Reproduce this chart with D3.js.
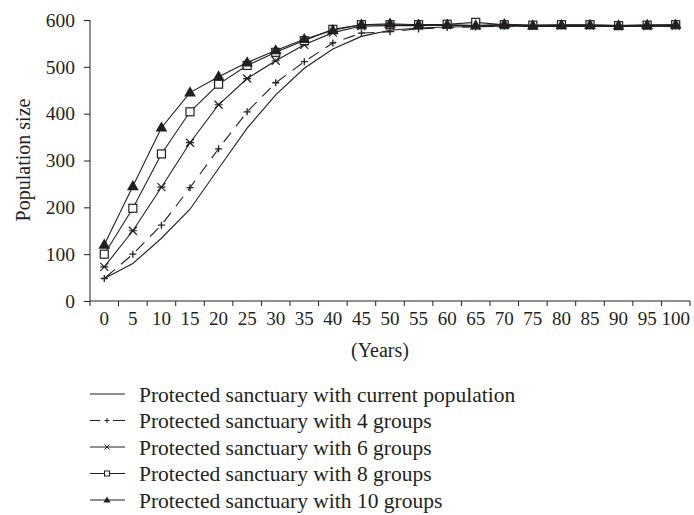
<!DOCTYPE html>
<html>
<head>
<meta charset="utf-8">
<script src="https://cdn.jsdelivr.net/npm/d3@7"></script>
<style>
  body { margin: 0; background: #fff; }
  text { font-family: "Liberation Serif", "Times New Roman", serif; fill: #231f20; }
</style>
</head>
<body>
<script>
var years = ['0','5','10','15','20','25','30','35','40','45','50','55','60','65','70','75','80','85','90','95','100'];
var yTicks = [0, 100, 200, 300, 400, 500, 600];

var current  = [48, 80, 134, 196, 283, 369, 440, 497, 538, 565, 578, 583, 585, 586, 587, 586, 586, 587, 586, 586, 587];
var groups4  = [48, 100, 162, 242, 325, 404, 466, 511, 551, 572, 575, 581, 584, 585, 587, 586, 587, 587, 586, 587, 587];
var groups6  = [73, 150, 243, 338, 419, 475, 513, 547, 573, 587, 588, 588, 589, 588, 589, 588, 588, 588, 587, 587, 588];
var groups8  = [100, 198, 314, 404, 463, 503, 531, 556, 580, 590, 590, 590, 591, 595, 590, 589, 590, 590, 588, 589, 590];
var groups10 = [120, 245, 370, 445, 479, 509, 535, 559, 578, 590, 592, 590, 590, 588, 591, 588, 589, 589, 588, 589, 590];

var seriesNames = [
  'Protected sanctuary with current population',
  'Protected sanctuary with 4 groups',
  'Protected sanctuary with 6 groups',
  'Protected sanctuary with 8 groups',
  'Protected sanctuary with 10 groups'
];
var seriesValues = [current, groups4, groups6, groups8, groups10];
var seriesMarks  = ['none', 'plus', 'star', 'square', 'triangle'];

var svg = d3.select('body').append('svg')
            .attr('width', 694)
            .attr('height', 515);

var x = d3.scaleBand().domain(years).range([90, 690]);
var y = d3.scaleLinear().domain([0, 600]).range([301, 20]);

var ink = '#231f20';

// y axis
var yAxis = svg.append('g')
  .attr('transform', 'translate(90,0)')
  .call(d3.axisLeft(y).tickValues(yTicks).tickSize(6).tickPadding(9));
yAxis.select('.domain').attr('stroke', ink).attr('d', 'M0,' + y(600) + 'V' + y(0));
yAxis.selectAll('line').attr('stroke', ink);
yAxis.selectAll('text').attr('font-size', 19.5).attr('font-family', null);

// x axis: labels in band centres, ticks on band edges
var xAxis = svg.append('g')
  .attr('transform', 'translate(0,' + y(0) + ')')
  .call(d3.axisBottom(x).tickSize(0).tickPadding(11));
xAxis.select('.domain').attr('stroke', ink).attr('d', 'M90,0H690');
xAxis.selectAll('text').attr('font-size', 19).attr('font-family', null);

var edges = years.map(function(d){ return x(d); }).concat([x.range()[1]]);
xAxis.selectAll('.edge').data(edges).enter().append('line')
  .attr('class', 'edge')
  .attr('x1', function(d){ return d; }).attr('x2', function(d){ return d; })
  .attr('y1', 0).attr('y2', 5)
  .attr('stroke', ink);

svg.append('text')
  .attr('x', 380).attr('y', 357)
  .attr('text-anchor', 'middle')
  .attr('font-size', 20)
  .text('(Years)');

svg.append('text')
  .attr('transform', 'translate(30,160) rotate(-90)')
  .attr('text-anchor', 'middle')
  .attr('font-size', 20)
  .text('Population size');

///////////////////////////////////////////////////////////////////////////////
// lines and markers

var line = d3.line()
  .x(function(d, i){ return x(years[i]) + x.bandwidth() / 2; })
  .y(function(d){ return y(d); });

function drawMark(g, kind, cx, cy, s){
  if(kind === 'plus'){
    g.append('path').attr('d', 'M' + (cx - 3.5) + ',' + cy + 'h7M' + cx + ',' + (cy - 3.5) + 'v7')
      .attr('stroke', ink).attr('stroke-width', 1.3);
  } else if(kind === 'star'){
    g.append('path').attr('d', 'M' + (cx - 4) + ',' + (cy - 4) + 'l8,8M' + (cx - 4) + ',' + (cy + 4) + 'l8,-8M' + (cx - 4) + ',' + cy + 'h8')
      .attr('stroke', ink).attr('stroke-width', 1.2);
  } else if(kind === 'square'){
    g.append('rect').attr('x', cx - 4).attr('y', cy - 4).attr('width', 8).attr('height', 8)
      .attr('fill', '#fff').attr('stroke', ink).attr('stroke-width', 1.2);
  } else if(kind === 'triangle'){
    g.append('path').attr('d', d3.symbol(d3.symbolTriangle, s || 60)())
      .attr('transform', 'translate(' + cx + ',' + (cy + 0.5) + ')')
      .attr('fill', ink);
  }
}

seriesValues.forEach(function(vals, k){
  var g = svg.append('g');
  g.append('path')
    .attr('d', line(vals))
    .attr('fill', 'none')
    .attr('stroke', ink)
    .attr('stroke-width', 1.1)
    .attr('stroke-dasharray', seriesMarks[k] === 'plus' ? '12,8' : null)
    .attr('stroke-dashoffset', seriesMarks[k] === 'plus' ? 18 : null);
  vals.forEach(function(v, i){
    drawMark(g, seriesMarks[k], x(years[i]) + x.bandwidth() / 2, y(v));
  });
});

///////////////////////////////////////////////////////////////////////////////
// legend

var legend = svg.append('g');
seriesNames.forEach(function(name, k){
  var ly = 394 + k * 26.5;
  var row = legend.append('g');
  if(seriesMarks[k] === 'plus'){
    row.append('path').attr('d', 'M90,' + ly + 'h10M113,' + ly + 'h12').attr('stroke', ink).attr('stroke-width', 1.1);
  } else {
    row.append('line').attr('x1', 90).attr('x2', 125).attr('y1', ly).attr('y2', ly)
      .attr('stroke', ink).attr('stroke-width', 1.1);
  }
  if(seriesMarks[k] === 'plus'){
    row.append('path').attr('d', 'M' + 104.5 + ',' + ly + 'h5M107,' + (ly - 2.5) + 'v5').attr('stroke', ink);
  } else if(seriesMarks[k] === 'star'){
    row.append('path').attr('d', 'M104.5,' + (ly - 2.5) + 'l5,5M104.5,' + (ly + 2.5) + 'l5,-5').attr('stroke', ink);
  } else if(seriesMarks[k] === 'square'){
    row.append('rect').attr('x', 104.5).attr('y', ly - 2.5).attr('width', 5).attr('height', 5)
      .attr('fill', '#fff').attr('stroke', ink);
  } else if(seriesMarks[k] === 'triangle'){
    drawMark(row, 'triangle', 107, ly, 22);
  }
  row.append('text')
    .attr('x', 139).attr('y', ly)
    .attr('dy', '0.35em')
    .attr('font-size', 21.5)
    .text(name);
});
</script>
</body>
</html>
